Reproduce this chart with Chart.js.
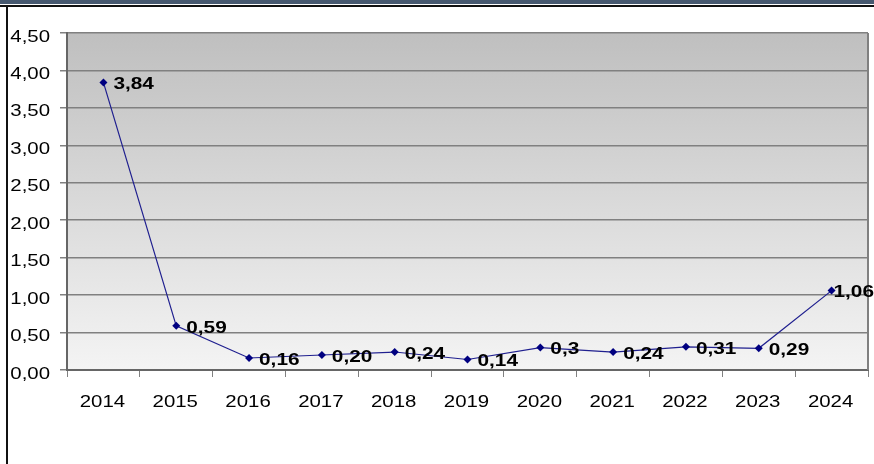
<!DOCTYPE html>
<html>
<head>
<meta charset="utf-8">
<script src="https://cdn.jsdelivr.net/npm/chart.js@4.4.0/dist/chart.umd.min.js"></script>
<style>
    body { margin: 0; background: #fff; }
    #wrap { position: relative; width: 874px; height: 464px; overflow: hidden; }
    #topBar { position: absolute; left: 0; top: 0; width: 874px; height: 4px; background: #46586f; }
    #topLine { position: absolute; left: 0; top: 5px; width: 874px; height: 2px; background: #111; }
    #leftLine { position: absolute; left: 6px; top: 5px; width: 2px; height: 459px; background: #111; }
    canvas { position: absolute; left: 0; top: 0; }
</style>
</head>
<body>
<div id="wrap">
    <canvas id="Chart" width="874" height="464"></canvas>
    <div id="topBar"></div>
    <div id="topLine"></div>
    <div id="leftLine"></div>
</div>
<script>
const years = ['2014', '2015', '2016', '2017', '2018', '2019', '2020', '2021', '2022', '2023', '2024'];
const values = [3.84, 0.59, 0.16, 0.20, 0.24, 0.14, 0.30, 0.24, 0.31, 0.29, 1.06];
const valueLabels = ['3,84', '0,59', '0,16', '0,20', '0,24', '0,14', '0,3', '0,24', '0,31', '0,29', '1,06'];
const yTickLabels = ['0,00', '0,50', '1,00', '1,50', '2,00', '2,50', '3,00', '3,50', '4,00', '4,50'];

// text in the picture is wider than Arial, so squeeze it out a bit
function wideText(ctx, text, x, y, sx, align) {
    ctx.save();
    ctx.translate(x, y);
    ctx.scale(sx, 1);
    ctx.textAlign = align;
    ctx.fillText(text, 0, 0);
    ctx.restore();
}

const backdrop = {
    id: 'backdrop',
    beforeDraw(chart) {
        const { ctx, chartArea: a } = chart;
        var g = ctx.createLinearGradient(0, a.top, 0, a.bottom);
        g.addColorStop(0, '#bfbfbf');
        g.addColorStop(1, '#f4f4f4');
        ctx.save();
        ctx.fillStyle = g;
        ctx.fillRect(a.left, a.top, a.right - a.left, a.bottom - a.top);
        ctx.restore();
    }
};

const texts = {
    id: 'texts',
    afterDraw(chart) {
        const { ctx, chartArea: a } = chart;
        const xs = chart.scales.x, ys = chart.scales.y;
        ctx.save();
        // right edge of plot
        ctx.strokeStyle = '#808080';
        ctx.lineWidth = 2;
        ctx.beginPath();
        ctx.moveTo(a.right, a.top);
        ctx.lineTo(a.right, a.bottom);
        ctx.stroke();

        ctx.fillStyle = '#000';
        ctx.textBaseline = 'alphabetic';
        ctx.font = '17px "Liberation Sans", Arial, sans-serif';
        ys.ticks.forEach((t, i) => {
            const y = ys.getPixelForValue(t.value);
            wideText(ctx, yTickLabels[i], 50, y + 8.5, 1.2, 'right');
        });
        years.forEach((yr, i) => {
            wideText(ctx, yr, xs.getPixelForValue(i) - 1, 406.5, 1.2, 'center');
        });

        ctx.font = 'bold 16px "Liberation Sans", Arial, sans-serif';
        const meta = chart.getDatasetMeta(0);
        meta.data.forEach((pt, i) => {
            const w = ctx.measureText(valueLabels[i]).width * 1.3;
            const x = Math.min(pt.x + 10, chart.width - w);
            wideText(ctx, valueLabels[i], x, pt.y + 6.8, 1.3, 'left');
        });
        ctx.restore();
    }
};

var ctx = document.getElementById('Chart').getContext('2d');
var chart = new Chart(ctx, {
    type: 'line',
    data: {
        labels: years,
        datasets: [{
            data: values,
            borderColor: '#1f1f8f',
            borderWidth: 1.2,
            backgroundColor: '#000080',
            pointStyle: 'rectRot',
            pointRadius: 4,
            pointBorderWidth: 0,
            pointBackgroundColor: '#000080',
            tension: 0
        }]
    },
    options: {
        responsive: false,
        animation: false,
        devicePixelRatio: 1,
        layout: { padding: { left: 0, right: 6, top: 33, bottom: 0 } },
        plugins: {
            legend: { display: false },
            tooltip: { enabled: false }
        },
        scales: {
            x: {
                offset: true,
                grid: { offset: true, drawOnChartArea: false, color: '#808080', tickLength: 7, lineWidth: 1 },
                border: { color: '#666', width: 2 },
                ticks: { display: false },
                afterFit: (s) => { s.height = 94; }
            },
            y: {
                min: 0,
                max: 4.5,
                ticks: { stepSize: 0.5, display: false },
                grid: { color: '#808080', tickLength: 7, lineWidth: 1.5 },
                border: { color: '#666', width: 2 },
                afterFit: (s) => { s.width = 67; }
            }
        }
    },
    plugins: [backdrop, texts]
});
</script>
</body>
</html>
